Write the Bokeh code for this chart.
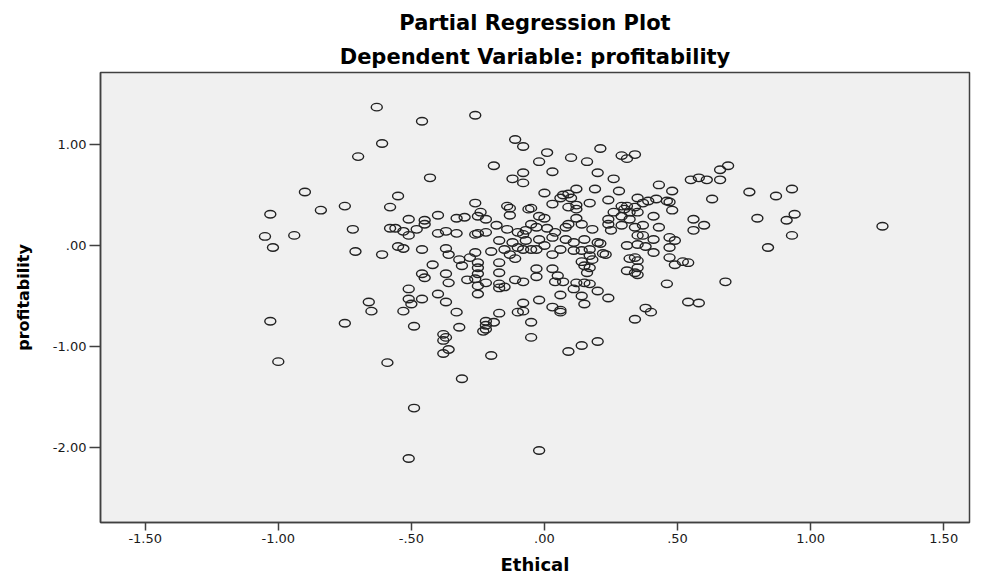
from bokeh.plotting import figure
from bokeh.models import Range1d, FixedTicker, Title
from bokeh.embed import file_html
from bokeh.resources import INLINE

title_main = "Partial Regression Plot"
title_sub = "Dependent Variable: profitability"
x_label = "Ethical"
y_label = "profitability"
x_ticks = [-1.5, -1.0, -0.5, 0.0, 0.5, 1.0, 1.5]
x_tick_labels = ["-1.50", "-1.00", "-.50", ".00", ".50", "1.00", "1.50"]
y_ticks = [-2.0, -1.0, 0.0, 1.0]
y_tick_labels = ["-2.00", "-1.00", ".00", "1.00"]

# upper-left group
ethical_a = [-0.63, -0.61, -0.70, -0.90, -1.03, -0.84, -0.75, -0.58]
profit_a = [1.37, 1.01, 0.88, 0.53, 0.31, 0.35, 0.39, 0.38]

# upper-centre group
ethical_b = [-0.46, -0.26, -0.11, -0.08, 0.01, 0.21, 0.10, 0.16, -0.02, 0.29,
             0.31, 0.34, -0.19, -0.43, 0.03, -0.08, -0.12, -0.08, 0.20, 0.26,
             0.43, 0.48, 0.28, 0.19, 0.12, 0.00, 0.07, 0.09, 0.06, 0.10,
             -0.55, -0.26, -0.24, -0.25, -0.22, -0.14, -0.13, -0.13, -0.05, -0.06,
             -0.02, 0.00, 0.03, 0.09, 0.12, 0.12, 0.12, 0.17, 0.24, 0.35,
             0.39, 0.37, 0.42, 0.46, 0.47, 0.29, 0.31, 0.34, 0.30, 0.26,
             0.32, 0.35, 0.48, 0.41, 0.29, 0.24, 0.32, -0.40, -0.51, -0.45,
             -0.33, -0.30]
profit_b = [1.23, 1.29, 1.05, 0.98, 0.92, 0.96, 0.87, 0.83, 0.83, 0.89,
            0.86, 0.90, 0.79, 0.67, 0.73, 0.72, 0.66, 0.62, 0.72, 0.66,
            0.60, 0.54, 0.54, 0.56, 0.56, 0.52, 0.50, 0.51, 0.47, 0.47,
            0.49, 0.42, 0.33, 0.29, 0.26, 0.39, 0.37, 0.30, 0.37, 0.36,
            0.29, 0.27, 0.41, 0.38, 0.40, 0.36, 0.27, 0.42, 0.45, 0.47,
            0.44, 0.42, 0.46, 0.44, 0.43, 0.39, 0.39, 0.38, 0.36, 0.33,
            0.33, 0.33, 0.35, 0.29, 0.29, 0.26, 0.26, 0.30, 0.26, 0.25,
            0.27, 0.28]

# right group
ethical_c = [0.69, 0.66, 0.55, 0.58, 0.61, 0.66, 0.63, 0.77, 0.87, 0.93,
             0.56, 0.80, 0.91, 0.94, 1.27, 0.60, 0.56, 0.93, 0.84, 0.52,
             0.54, 0.68, 0.54, 0.58]
profit_c = [0.79, 0.75, 0.65, 0.67, 0.65, 0.65, 0.46, 0.53, 0.49, 0.56,
            0.26, 0.27, 0.25, 0.31, 0.19, 0.20, 0.15, 0.10, -0.02, -0.16,
            -0.17, -0.36, -0.56, -0.57]

# left group
ethical_d = [-1.05, -0.94, -1.02, -0.72, -0.71, -0.61, -0.58, -0.66, -0.65, -1.03,
             -0.75, -1.00, -0.59]
profit_d = [0.09, 0.10, -0.02, 0.16, -0.06, -0.09, 0.17, -0.56, -0.65, -0.75,
            -0.77, -1.15, -1.16]

# central band
ethical_e = [-0.56, -0.53, -0.51, -0.48, -0.45, -0.40, -0.37, -0.33, -0.26, -0.22,
             -0.25, -0.18, -0.14, -0.10, -0.08, -0.07, -0.05, -0.03, 0.01, 0.04,
             0.08, 0.09, 0.14, 0.18, 0.24, 0.25, 0.29, 0.34, 0.37, 0.43,
             0.35, 0.37, 0.41, 0.47, 0.49, -0.17, -0.12, -0.07, -0.02, 0.03,
             0.08, 0.11, 0.15, 0.20, 0.31, 0.35, 0.38, 0.47]
profit_e = [0.17, 0.14, 0.10, 0.16, 0.21, 0.12, 0.14, 0.12, 0.11, 0.13,
            0.12, 0.20, 0.16, 0.13, 0.11, 0.15, 0.21, 0.18, 0.17, 0.13,
            0.18, 0.21, 0.21, 0.16, 0.21, 0.15, 0.20, 0.18, 0.20, 0.18,
            0.10, 0.10, 0.06, 0.08, 0.05, 0.05, 0.03, 0.05, 0.06, 0.08,
            0.06, 0.03, 0.06, 0.03, 0.00, 0.01, -0.01, -0.02]

# just below zero
ethical_f = [-0.55, -0.53, -0.46, -0.37, -0.36, -0.26, -0.20, -0.15, -0.13, -0.10,
             -0.08, -0.05, -0.03, 0.00, 0.03, 0.06, 0.11, 0.14, 0.17, 0.21,
             0.22, 0.17, 0.41, 0.47, 0.49, 0.34, 0.32, 0.35]
profit_f = [-0.01, -0.03, -0.04, -0.03, -0.09, -0.07, -0.06, -0.04, -0.09, -0.02,
            -0.04, -0.04, -0.04, 0.00, -0.09, -0.04, -0.05, -0.05, -0.04, 0.02,
            -0.08, -0.10, -0.07, -0.12, -0.19, -0.12, -0.13, -0.15]

# lower-centre group
ethical_g = [-0.28, -0.32, -0.31, -0.25, -0.25, -0.25, -0.26, -0.29, -0.22, -0.25,
             -0.25, -0.17, -0.17, -0.17, -0.15, -0.17, -0.11, -0.08, -0.11, -0.42,
             -0.46, -0.45, -0.37, -0.36, -0.03, -0.03, 0.03, 0.05, 0.04, 0.07,
             0.06, 0.14, 0.15, 0.17, 0.18, 0.16, 0.12, 0.11, 0.15, 0.17,
             0.20, 0.14, 0.15, 0.24, 0.23, 0.35, 0.34, 0.31, 0.35, 0.46,
             0.38, 0.40, 0.34, 0.20, 0.14, 0.09]
profit_g = [-0.12, -0.14, -0.20, -0.17, -0.22, -0.28, -0.33, -0.34, -0.37, -0.40,
            -0.48, -0.17, -0.27, -0.38, -0.41, -0.42, -0.34, -0.36, -0.13, -0.19,
            -0.28, -0.32, -0.28, -0.37, -0.23, -0.31, -0.23, -0.30, -0.36, -0.36,
            -0.49, -0.16, -0.20, -0.22, -0.14, -0.27, -0.37, -0.43, -0.37, -0.38,
            -0.45, -0.50, -0.58, -0.52, -0.09, -0.22, -0.27, -0.25, -0.29, -0.38,
            -0.62, -0.66, -0.73, -0.95, -0.99, -1.05]

# bottom group
ethical_h = [-0.05, -0.05, -0.08, -0.10, -0.08, 0.03, 0.06, 0.06, -0.02, -0.17,
             -0.19, -0.22, -0.22, -0.22, -0.23, -0.32, -0.33, -0.37, -0.40, -0.46,
             -0.51, -0.51, -0.50, -0.53, -0.49, -0.38, -0.37, -0.38, -0.36, -0.38,
             -0.20, -0.51, -0.49, -0.31, -0.02]
profit_h = [-0.76, -0.91, -0.57, -0.66, -0.65, -0.61, -0.64, -0.66, -0.54, -0.67,
            -0.76, -0.75, -0.79, -0.83, -0.85, -0.81, -0.66, -0.56, -0.48, -0.53,
            -0.43, -0.53, -0.58, -0.65, -0.80, -0.88, -0.91, -0.94, -1.03, -1.07,
            -1.09, -2.11, -1.61, -1.32, -2.03]

ethical = ethical_a + ethical_b + ethical_c + ethical_d + ethical_e + ethical_f + ethical_g + ethical_h
profitability = profit_a + profit_b + profit_c + profit_d + profit_e + profit_f + profit_g + profit_h

FONT = "DejaVu Sans"
DARK = "#404040"

p = figure(width=974, height=577,
           x_range=Range1d(-1.668, 1.597), y_range=Range1d(-2.743, 1.713),
           output_backend="svg", toolbar_location=None,
           min_border_left=100, min_border_right=5, min_border_bottom=55, min_border_top=72,
           title=title_main)

p.title.align = "center"
p.title.text_font = FONT
p.title.text_font_size = "21px"
p.title.text_font_style = "bold"
p.title.text_color = "black"
p.title.standoff = 7
p.add_layout(Title(text=title_sub, align="center", text_font=FONT, text_font_size="21px",
                   text_font_style="bold", text_color="black", standoff=8), "above")

p.background_fill_color = "#f0f0f0"
p.border_fill_color = "white"
p.grid.visible = False
p.outline_line_color = DARK
p.outline_line_width = 1.5

p.xaxis.ticker = FixedTicker(ticks=x_ticks)
p.xaxis.major_label_overrides = dict(zip(x_ticks, x_tick_labels))
p.yaxis.ticker = FixedTicker(ticks=y_ticks)
p.yaxis.major_label_overrides = dict(zip(y_ticks, y_tick_labels))

for ax in (p.xaxis[0], p.yaxis[0]):
    ax.minor_tick_line_color = None
    ax.major_tick_in = 0
    ax.major_tick_line_color = DARK
    ax.major_tick_line_width = 1.5
    ax.axis_line_color = DARK
    ax.axis_line_width = 1.5
    ax.major_label_text_font = FONT
    ax.major_label_text_font_size = "13px"
    ax.major_label_text_color = "#1a1a1a"
    ax.axis_label_text_font = FONT
    ax.axis_label_text_font_style = "bold"
    ax.axis_label_text_color = "black"

p.xaxis.axis_label = x_label
p.xaxis.major_tick_out = 8
p.xaxis.major_label_standoff = 3
p.xaxis.axis_label_text_font_size = "18px"
p.xaxis.axis_label_standoff = 8

p.yaxis.axis_label = y_label
p.yaxis.major_tick_out = 11
p.yaxis.major_label_standoff = 3
p.yaxis.axis_label_text_font_size = "16px"
p.yaxis.axis_label_standoff = 17

p.ellipse(ethical, profitability, width=11, height=7.5,
          width_units="screen", height_units="screen",
          fill_color=None, line_color="#222222", line_width=1.4)

open("out.html", "w").write(file_html(p, INLINE))
